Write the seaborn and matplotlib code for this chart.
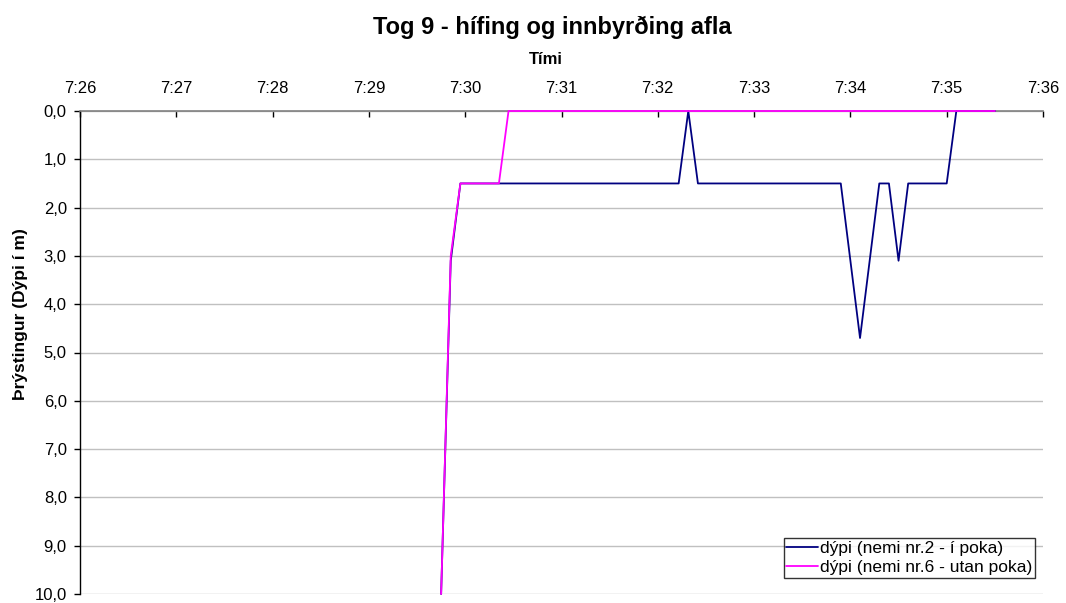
import matplotlib
matplotlib.use("Agg")
import matplotlib.pyplot as plt
import seaborn as sns
import pandas as pd

# Tímar og dýpi lesin af myndinni
blue_times = ["7:29:45", "7:29:51", "7:29:57", "7:32:13", "7:32:19", "7:32:25",
              "7:33:54", "7:34:06", "7:34:18", "7:34:24", "7:34:30", "7:34:36",
              "7:35:00", "7:35:06", "7:35:30"]
blue_depth = [10.0, 3.1, 1.5, 1.5, 0.0, 1.5,
              1.5, 4.7, 1.5, 1.5, 3.1, 1.5,
              1.5, 0.0, 0.0]

pink_times = ["7:29:45", "7:29:51", "7:29:57", "7:30:21", "7:30:27", "7:35:30"]
pink_depth = [10.0, 3.0, 1.5, 1.5, 0.0, 0.0]

series_names = ["dýpi (nemi nr.2 - í poka)", "dýpi (nemi nr.6 - utan poka)"]
tick_labels = ["7:26", "7:27", "7:28", "7:29", "7:30", "7:31",
               "7:32", "7:33", "7:34", "7:35", "7:36"]
y_ticks = [0, 1, 2, 3, 4, 5, 6, 7, 8, 9, 10]


def to_minutes(t):
    h, m, s = (int(v) for v in t.split(":"))
    return h * 60 + m + s / 60.0


df = pd.concat([
    pd.DataFrame({"t": [to_minutes(t) for t in blue_times], "d": blue_depth, "s": series_names[0]}),
    pd.DataFrame({"t": [to_minutes(t) for t in pink_times], "d": pink_depth, "s": series_names[1]}),
])

sns.set_style("white", {"text.color": "black", "xtick.color": "black", "ytick.color": "black"})
plt.rcParams["font.family"] = ["Liberation Sans", "DejaVu Sans"]

W, H = 1066, 603
fig = plt.figure(figsize=(W / 100, H / 100), dpi=100)
ax = fig.add_axes([80 / W, 9 / H, 963 / W, 483 / H])

sns.lineplot(data=df, x="t", y="d", hue="s", palette=["#000080", "#FF00FF"],
             linewidth=1.3, ax=ax, estimator=None, sort=False, zorder=3)
for ln in ax.lines:
    ln.set_clip_on(False)

xt = [to_minutes(t + ":00") for t in tick_labels]
ax.set_xlim(xt[0], xt[-1])
ax.set_xticks(xt)
ax.set_xticklabels(tick_labels, fontsize=12)
ax.set_ylim(10, 0)
ax.set_yticks(y_ticks)
ax.set_yticklabels([f"{v:.1f}".replace(".", ",") for v in y_ticks], fontsize=12)

ax.xaxis.tick_top()
ax.tick_params(axis="x", direction="in", length=4, width=1, color="black", labelcolor="black",
               pad=11, top=True, bottom=False)
ax.tick_params(axis="y", direction="out", length=4, width=1, color="black", labelcolor="black",
               left=True, pad=5.5)

ax.yaxis.grid(True, color="#c0c0c0", linewidth=1)
ax.set_axisbelow(True)
for side in ["right", "bottom"]:
    ax.spines[side].set_visible(False)
ax.spines["left"].set_color("black")
ax.spines["left"].set_linewidth(1)
ax.spines["top"].set_color("#808080")
ax.spines["top"].set_linewidth(1.2)

ax.set_xlabel("")
ax.set_ylabel("")
fig.text(546 / W, 1 - 60 / H, "Tími", ha="center", va="center", fontsize=12,
         fontweight="bold", color="black")
fig.text(20 / W, 1 - 314 / H, "Þrýstingur (Dýpi í m)", rotation=90,
         ha="center", va="center", fontsize=12.5, fontweight="bold", color="black")
fig.text(552 / W, 1 - 27 / H, "Tog 9 - hífing og innbyrðing afla",
         ha="center", va="center", fontsize=17, fontweight="bold", color="black")

leg = ax.legend(loc="lower right", bbox_to_anchor=((1035 - 80) / 963, (594 - 578) / 483), fontsize=12.5,
                frameon=True, fancybox=False, edgecolor="black", handlelength=1.8,
                handletextpad=0.15, borderpad=0.15, labelspacing=0.25, borderaxespad=0)
leg.get_frame().set_linewidth(1)
for txt in leg.get_texts():
    txt.set_color("black")

fig.savefig("out.png", dpi=100)
